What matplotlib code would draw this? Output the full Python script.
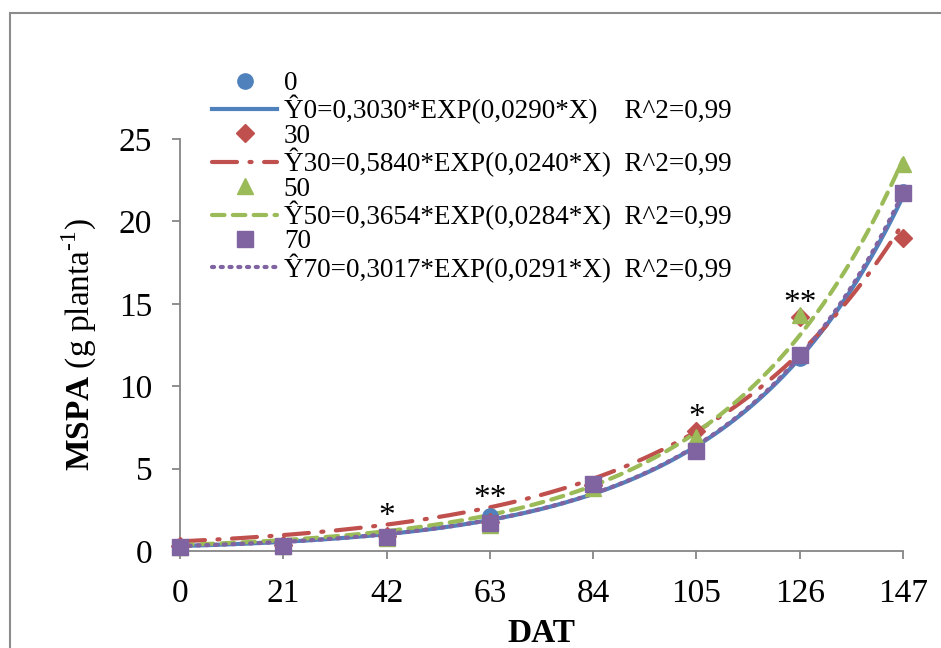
import numpy as np
import matplotlib
matplotlib.use('Agg')
import matplotlib.pyplot as plt
from matplotlib.lines import Line2D
from matplotlib.patches import Rectangle

plt.rcParams['font.family'] = ['Liberation Serif', 'DejaVu Serif']
plt.rcParams['mathtext.fontset'] = 'custom'
plt.rcParams['mathtext.rm'] = 'Liberation Serif'
plt.rcParams['mathtext.bf'] = 'Liberation Serif:bold'

# dados
dat = [0, 21, 42, 63, 84, 105, 126, 147]
niveis = ['0', '30', '50', '70']
mspa_0 = [0.25, 0.3, 0.85, 2.15, 3.9, 6.1, 11.7, 21.8]
mspa_30 = [0.3, 0.35, 0.9, 1.75, 4.0, 7.3, 14.2, 19.0]
mspa_50 = [0.25, 0.3, 0.8, 1.55, 3.85, 6.9, 14.3, 23.5]
mspa_70 = [0.25, 0.28, 0.85, 1.7, 4.05, 6.05, 11.9, 21.75]
coef_a = [0.3030, 0.5840, 0.3654, 0.3017]
coef_b = [0.0290, 0.0240, 0.0284, 0.0291]
eq_txt = ['Ŷ0=0,3030*EXP(0,0290*X)    R^2=0,99',
          'Ŷ30=0,5840*EXP(0,0240*X)  R^2=0,99',
          'Ŷ50=0,3654*EXP(0,0284*X)  R^2=0,99',
          'Ŷ70=0,3017*EXP(0,0291*X)  R^2=0,99']
sig_x = [42, 63, 105, 126]
sig_y = [2.1, 3.2, 8.1, 15.0]
sig_txt = ['*', '**', '*', '**']

cores = ['#4F81BD', '#C0504D', '#9BBB59', '#8064A2']
marcadores = ['o', 'D', '^', 's']
msizes = [11, 9, 11, 11]
estilos = ['-', (0, (6, 3, 0.5, 3)), (0, (3, 2)), (0, (0.5, 1.6))]
caps = ['butt', 'round', 'round', 'round']

fig = plt.figure(figsize=(9.41, 6.48), dpi=100)
fig.patches.append(Rectangle((10/941, -0.1), 1.2, 1.1 - 13/648,
                             transform=fig.transFigure, fill=False,
                             edgecolor='#8c8c8c', lw=1.5))
ax = fig.add_axes([180/941, 1 - 551/648, 723/941, 412/648])

series = [mspa_0, mspa_30, mspa_50, mspa_70]
xs = np.linspace(0, 147, 300)
handles = []
labels = []
for i in range(4):
    yfit = coef_a[i] * np.exp(coef_b[i] * xs)
    ln, = ax.plot(xs, yfit, color=cores[i], lw=3, linestyle=estilos[i],
                  dash_capstyle=caps[i], zorder=2, clip_on=False)
    mk = Line2D([], [], color=cores[i], marker=marcadores[i], ms=msizes[i],
                linestyle='none', markeredgecolor=cores[i])
    handles += [mk, ln]
    labels += [niveis[i], eq_txt[i]]

for i in range(4):
    ax.plot(dat, series[i], linestyle='none', marker=marcadores[i],
            ms=msizes[i], color=cores[i], markeredgecolor=cores[i],
            zorder=3 + i, clip_on=False)

for x, y, t in zip(sig_x, sig_y, sig_txt):
    ax.text(x, y, t, ha='center', va='center', fontsize=24)

ax.set_xlim(0, 147)
ax.set_ylim(0, 25)
ax.set_xticks(dat)
ax.set_yticks([0, 5, 10, 15, 20, 25])
ax.tick_params(axis='both', labelsize=24, colors='#868686', labelcolor='black',
               length=6, width=1.3)
ax.tick_params(axis='x', pad=14)
ax.tick_params(axis='y', pad=14)
for s in ['top', 'right']:
    ax.spines[s].set_visible(False)
for s in ['left', 'bottom']:
    ax.spines[s].set_color('#868686')
    ax.spines[s].set_linewidth(1.3)

ax.set_xlabel('DAT', fontsize=24, fontweight='bold', labelpad=6)
ax.set_ylabel(r'$\mathbf{MSPA}$ (g planta$^{\text{-}1}$)', fontsize=24, labelpad=14)

leg = ax.legend(handles, labels, loc='upper left', bbox_to_anchor=(32/723, 1 + 68/412),
                frameon=False, fontsize=19.5, handlelength=2.4, handletextpad=0.25,
                labelspacing=-0.03, borderpad=0, borderaxespad=0)

fig.savefig('out.png', dpi=100)
